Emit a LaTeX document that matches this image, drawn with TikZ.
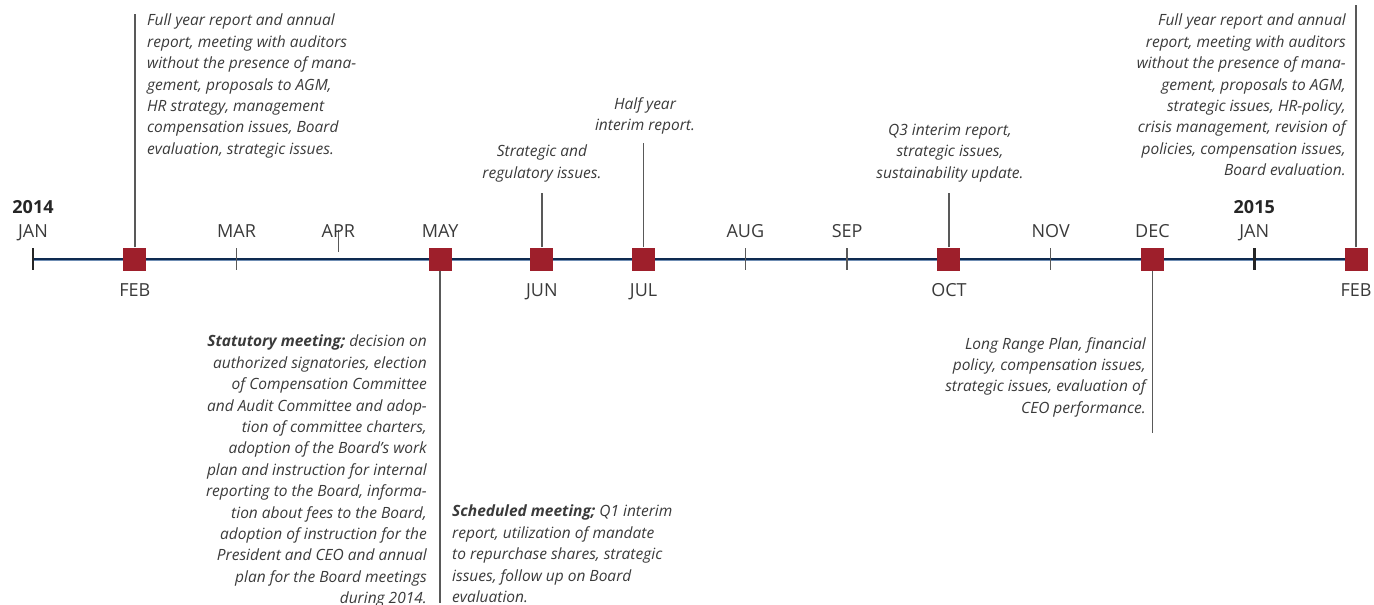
\documentclass[tikz,border=0pt]{standalone}
\usepackage{fontspec}
\setmainfont{Open Sans}
\usepackage{tikz}
\usetikzlibrary{positioning}
\usepackage{xcolor}
\definecolor{boardred}{HTML}{9E1F2B}
\definecolor{linenavy}{HTML}{0E2A50}
\definecolor{lineblue}{HTML}{6F8DB3}
\definecolor{textgrey}{HTML}{3A3A3A}

\begin{document}
\begin{tikzpicture}[x=1pt, y=-1pt,
  monthlabel/.style={font=\fontsize{18}{20}\selectfont, text=textgrey, inner sep=0pt, anchor=base},
  yearlabel/.style={font=\fontsize{18}{20}\selectfont\bfseries, text=black!85, inner sep=0pt, anchor=base},
  meetbox/.style={rectangle, fill=boardred, minimum size=23pt, inner sep=0pt},
  notetext/.style={font=\fontsize{15.5}{21.4}\selectfont\itshape, text=textgrey, inner sep=0pt},
  stemline/.style={draw=black!65, line width=1.5pt},
  monthtick/.style={draw=black!65, line width=1.5pt}]
%

%help grid and labels
%\draw[help lines, step=50] (0,0) grid (1374,605);

\useasboundingbox (0,0) rectangle (1374,605);

%%% month positions
\foreach \i in {0,...,13}
\coordinate (m\i) at ({33+101.77*\i},259);

%%% TIMELINE
\draw [linenavy, line width=2.6pt] (m0) -- (m13);
\draw [lineblue, line width=0.9pt] ([yshift=-1.3pt]m0) -- ([yshift=-1.3pt]m13);

%%% ticks
\draw [black!85, line width=2.5pt] ([yshift=11pt]m0) -- ([yshift=-11pt]m0);
\draw [black!85, line width=2.5pt] ([yshift=11pt]m12) -- ([yshift=-11pt]m12);
\foreach \i in {2,7,8,10}
\draw [monthtick] ([yshift=11pt]m\i) -- ([yshift=-11pt]m\i);
\draw [monthtick] ([yshift=29pt]m3) -- ([yshift=7pt]m3);

%%% month labels
\foreach \i/\name in {0/JAN,2/MAR,3/APR,4/MAY,7/AUG,8/SEP,10/NOV,11/DEC,12/JAN}
\node [monthlabel] (lbl\i) at ([yshift=22pt]m\i) {\name};
\foreach \i/\name in {1/FEB,5/JUN,6/JUL,9/OCT,13/FEB}
\node [monthlabel] (lbl\i) at ([yshift=-37pt]m\i) {\name};

\node [yearlabel] (year-a) at ([yshift=46pt]m0) {2014};
\node [yearlabel] (year-b) at ([yshift=46pt]m12) {2015};

%%% NOTES
\node [notetext, align=left, anchor=north west] (feb-a-note) at (147,14) {Full year report and annual\\report, meeting with auditors\\without the presence of mana-\\gement, proposals to AGM,\\HR strategy, management\\compensation issues, Board\\evaluation, strategic issues.};

\node [notetext, align=center, anchor=north] (jun-note) at (542,145) {Strategic and\\regulatory issues.};

\node [notetext, align=center, anchor=north] (jul-note) at (645,97) {Half year\\interim report.};

\node [notetext, align=center, anchor=north] (oct-note) at (950,124) {Q3 interim report,\\strategic issues,\\sustainability update.};

\node [notetext, align=right, anchor=north east] (feb-b-note) at (1346,14) {Full year report and annual\\report, meeting with auditors\\without the presence of mana-\\gement, proposals to AGM,\\strategic issues, HR-policy,\\crisis management, revision of\\policies, compensation issues,\\Board evaluation.};

\node [notetext, align=right, anchor=north east] (may-stat-note) at (427,335) {\textbf{Statutory meeting;} decision on\\authorized signatories, election\\of Compensation Committee\\and Audit Committee and adop-\\tion of committee charters,\\adoption of the Board’s work\\plan and instruction for internal\\reporting to the Board, informa-\\tion about fees to the Board,\\adoption of instruction for the\\President and CEO and annual\\plan for the Board meetings\\during 2014.};

\node [notetext, align=left, anchor=north west] (may-sched-note) at (452,505) {\textbf{Scheduled meeting;} Q1 interim\\report, utilization of mandate\\to repurchase shares, strategic\\issues, follow up on Board\\evaluation.};

\node [notetext, align=right, anchor=north east] (dec-note) at (1146,337) {Long Range Plan, financial\\policy, compensation issues,\\strategic issues, evaluation of\\CEO performance.};

%%% meetings
\foreach \i/\name in {1/feb-a,4/may,5/jun,6/jul,9/oct,11/dec,13/feb-b}
\node [meetbox] (sq-\name) at (m\i) {};

%%% free ends of the stems
\coordinate (feb-a-end) at (sq-feb-a |- feb-a-note.north);
\coordinate (jun-end) at (sq-jun |- 0,193);
\coordinate (jul-end) at (sq-jul |- 0,143);
\coordinate (oct-end) at (sq-oct |- 0,193);
\coordinate (feb-b-end) at (sq-feb-b |- 0,5);
\coordinate (may-end) at (sq-may |- 0,603);
\coordinate (dec-end) at (sq-dec |- 0,433);

%%% connections
\draw [stemline] (sq-feb-a.north) -- (feb-a-end);
\draw [stemline] (sq-jun.north) -- (jun-end);
\draw [stemline] (sq-jul.north) -- (jul-end);
\draw [stemline] (sq-oct.north) -- (oct-end);
\draw [stemline] (sq-feb-b.north) -- (feb-b-end);
\draw [stemline] (sq-may.south) -- (may-end);
\draw [stemline] (sq-dec.south) -- (dec-end);

\end{tikzpicture}
\end{document}
